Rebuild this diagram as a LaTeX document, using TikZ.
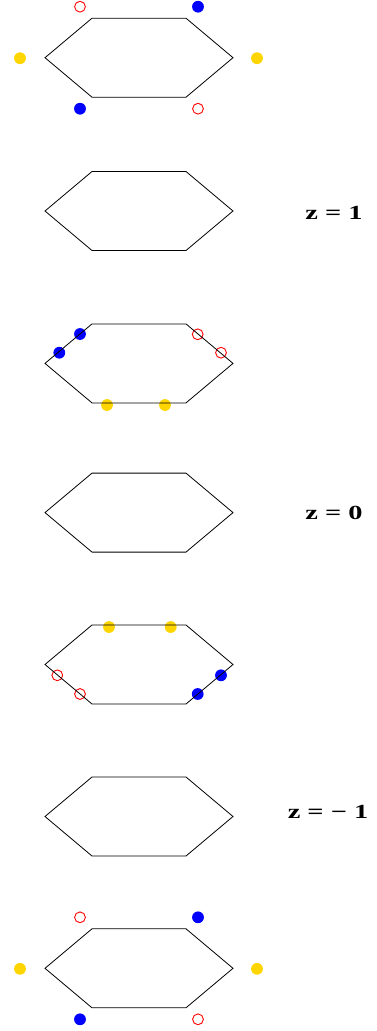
\documentclass[tikz,border=0pt]{standalone}
\usepackage{fontspec}
\setmainfont{Liberation Serif}
\newfontfamily\zfont{Liberation Serif}
\usepackage{graphicx}
\definecolor{dotblue}{RGB}{0, 0, 255}
\definecolor{dotgold}{RGB}{255, 213, 0}
\definecolor{dotred}{RGB}{255, 0, 0}
\usetikzlibrary{calc}

\tikzset{
  hexline/.style={draw=black, line width=0.8pt},
  bluedot/.style={fill=dotblue},
  golddot/.style={fill=dotgold},
  reddot/.style={draw=dotred, line width=0.9pt},
  zlabel/.style={font=\zfont\fontsize{20}{24}\selectfont\bfseries, inner sep=0pt, anchor=base}
}
\newcommand{\dotrad}{5.9}

\begin{document}
\begin{tikzpicture}[x=1pt, y=-1pt]
  \useasboundingbox (0,0) rectangle (377,1031);

  % outer dots, first and last row
  \foreach \yc in {57.7, 968.3} {
    \draw[reddot] (80,\yc-51) circle[radius=5.4];
    \fill[bluedot] (198,\yc-51) circle[radius=\dotrad];
    \fill[golddot] (20,\yc+0.5) circle[radius=\dotrad];
    \fill[golddot] (257,\yc+0.5) circle[radius=\dotrad];
    \fill[bluedot] (80,\yc+51) circle[radius=\dotrad];
    \draw[reddot] (198,\yc+51) circle[radius=5.4];
  }

  % dots sitting on the edges
  \foreach \x/\y in {59.3/352.7, 80/334, 197.7/694, 221/675.3}
    \fill[bluedot] (\x,\y) circle[radius=\dotrad];
  \foreach \x/\y in {107/405, 165/405, 109/627, 170.7/627}
    \fill[golddot] (\x,\y) circle[radius=\dotrad];
  \foreach \x/\y in {197.7/334.3, 221/352.7, 57.3/675.3, 80/694}
    \draw[reddot] (\x,\y) circle[radius=5.4];

  % hexagons
  \foreach \yc in {57.7, 211, 363.4, 512.6, 664.5, 816.5, 968.3}
    \draw[hexline] (45,\yc) -- (92,\yc-39.5) -- (186,\yc-39.5) -- (233,\yc)
      -- (186,\yc+39.5) -- (92,\yc+39.5) -- cycle;

  \node[zlabel] (zone) at (334,219.5) {\scalebox{1.42}[1]{z = 1}};
  \node[zlabel] (zzero) at (334,519) {\scalebox{1.42}[1]{z = 0}};
  \node[zlabel] (zminus) at (328,818) {\scalebox{1.42}[1]{z = − 1}};
\end{tikzpicture}
\end{document}
